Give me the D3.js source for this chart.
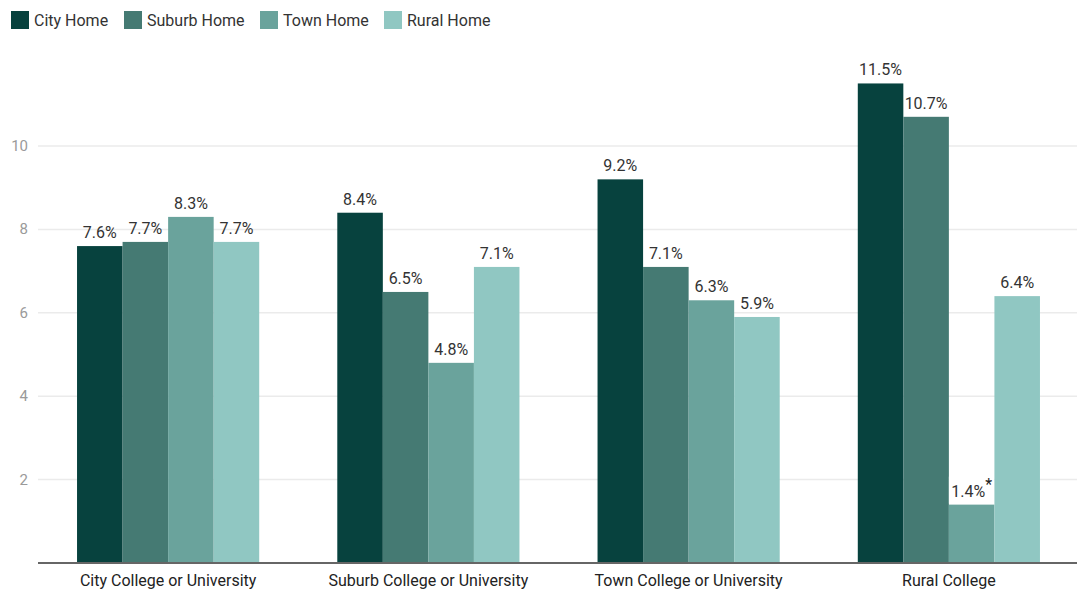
<!DOCTYPE html>
<html>
<head>
<meta charset="utf-8">
<script src="https://cdn.jsdelivr.net/npm/d3@7"></script>
<style>
  body { margin: 0; background: #fff; }
  svg { font-family: Roboto, "Noto Sans", sans-serif; }
</style>
</head>
<body>
<svg id="chart" width="1082" height="589"></svg>
<script>
// data
const categories = ["City College or University", "Suburb College or University", "Town College or University", "Rural College"];
const seriesNames = ["City Home", "Suburb Home", "Town Home", "Rural Home"];
const cityHome = [7.6, 8.4, 9.2, 11.5];
const suburbHome = [7.7, 6.5, 7.1, 10.7];
const townHome = [8.3, 4.8, 6.3, 1.4];
const ruralHome = [7.7, 7.1, 5.9, 6.4];
const starred = [[3, 2]]; // [category, series] with asterisk
const yTicks = [2, 4, 6, 8, 10];

const colors = ["#07423e", "#457a73", "#6aa39c", "#90c7c2"];
const series = [cityHome, suburbHome, townHome, ruralHome];

const svg = d3.select("#chart");

const x0 = d3.scaleBand().domain(categories).range([38, 1079]).paddingInner(0.3).paddingOuter(0.15);
const x1 = d3.scaleBand().domain(seriesNames).range([0, x0.bandwidth()]);
const y = d3.scaleLinear().domain([0, 10]).range([563, 146]);

// grid
svg.append("g").selectAll("line")
  .data(yTicks)
  .enter().append("line")
  .attr("x1", 38).attr("x2", 1077)
  .attr("y1", d => y(d)).attr("y2", d => y(d))
  .attr("stroke", "#ebebeb").attr("stroke-width", 1.5);

svg.append("g").selectAll("text")
  .data(yTicks)
  .enter().append("text")
  .attr("x", 28).attr("y", d => y(d) + 5)
  .attr("text-anchor", "end")
  .attr("fill", "#9a9a9a")
  .style("font-size", "15px")
  .text(d => d);

// bars
const groups = svg.append("g").selectAll("g")
  .data(categories)
  .enter().append("g")
  .attr("transform", d => `translate(${x0(d)},0)`);

groups.each(function (cat, ci) {
  const g = d3.select(this);
  seriesNames.forEach((s, si) => {
    const v = series[si][ci];
    g.append("rect")
      .attr("x", x1(s))
      .attr("y", y(v))
      .attr("width", x1.bandwidth())
      .attr("height", y(0) - y(v))
      .attr("fill", colors[si]);

    const isStar = starred.some(p => p[0] === ci && p[1] === si);
    const cx = x1(s) + x1.bandwidth() / 2;
    if (isStar) {
      g.append("rect")
        .attr("x", x1(s)).attr("y", y(v) - 28)
        .attr("width", x1.bandwidth()).attr("height", 27)
        .attr("fill", "#fff");
    }
    const t = g.append("text")
      .attr("x", cx)
      .attr("y", y(v) - 8)
      .attr("text-anchor", "middle")
      .attr("fill", "#333")
      .style("font-size", "16px")
      .text(v.toFixed(1) + "%");
    if (isStar) {
      t.append("tspan").attr("dy", -7).attr("fill", "#222").text("*");
    }
  });
});

// baseline
svg.append("line")
  .attr("x1", 38).attr("x2", 1077)
  .attr("y1", y(0)).attr("y2", y(0))
  .attr("stroke", "#666").attr("stroke-width", 2);

// x labels
svg.append("g").selectAll("text")
  .data(categories)
  .enter().append("text")
  .attr("x", d => x0(d) + x0.bandwidth() / 2)
  .attr("y", 586)
  .attr("text-anchor", "middle")
  .attr("fill", "#222")
  .style("font-size", "16px")
  .text(d => d);

// legend
const legendX = [11, 124, 260, 384];
const legend = svg.append("g").selectAll("g")
  .data(seriesNames)
  .enter().append("g")
  .attr("transform", (d, i) => `translate(${legendX[i]},11)`);
legend.append("rect").attr("width", 18).attr("height", 18).attr("fill", (d, i) => colors[i]);
legend.append("text").attr("x", 23).attr("y", 15)
  .attr("fill", "#333").style("font-size", "16px").text(d => d);
</script>
</body>
</html>
